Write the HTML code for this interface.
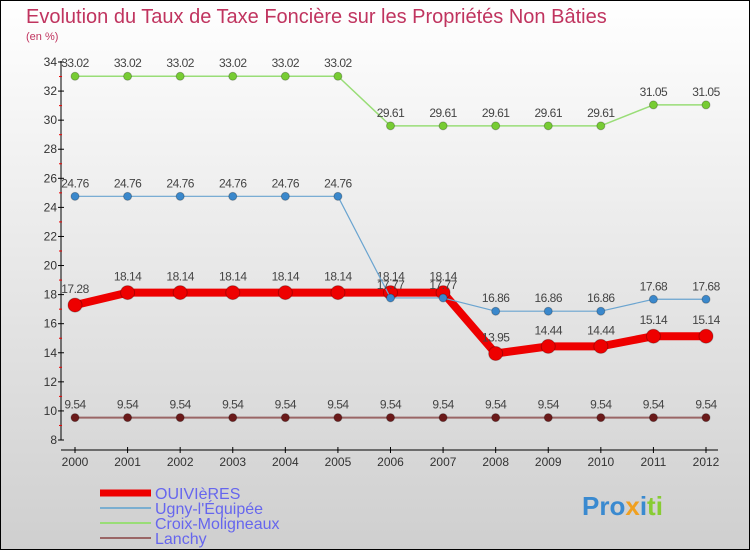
<!DOCTYPE html>
<html><head><meta charset="utf-8"><style>
body{margin:0}
svg text{font-family:"Liberation Sans","DejaVu Sans",sans-serif}
</style></head><body>
<svg width="750" height="550" xmlns="http://www.w3.org/2000/svg">
<defs><linearGradient id="bg" x1="0" y1="0" x2="0" y2="1"><stop offset="0" stop-color="#ffffff"/><stop offset="1" stop-color="#cfcfcf"/></linearGradient></defs>
<rect x="0.5" y="0.5" width="749" height="549" fill="url(#bg)" stroke="#000"/>
<text x="26" y="23" font-size="20" fill="#c0345f">Evolution du Taux de Taxe Foncière sur les Propriétés Non Bâties</text>
<text x="26" y="40" font-size="11" fill="#c0345f">(en %)</text>
<g id="axes"></g><g id="series"></g>
<g>
<line x1="100" y1="493" x2="151" y2="493" stroke="#ee0000" stroke-width="7"/>
<text x="155" y="499" font-size="16" fill="#6666ee">OUIVIèRES</text>
<line x1="100" y1="508" x2="151" y2="508" stroke="#7aaed0" stroke-width="2"/>
<text x="155" y="514" font-size="16" fill="#6666ee">Ugny-l'Équipée</text>
<line x1="100" y1="523" x2="151" y2="523" stroke="#99dd77" stroke-width="2"/>
<text x="155" y="529" font-size="16" fill="#6666ee">Croix-Moligneaux</text>
<line x1="100" y1="538" x2="151" y2="538" stroke="#9a6666" stroke-width="2"/>
<text x="155" y="544" font-size="16" fill="#6666ee">Lanchy</text>
</g>
<text x="582" y="515" font-size="26" font-weight="bold"><tspan fill="#3a8ad0">Pro</tspan><tspan fill="#f0a020">x</tspan><tspan fill="#3a8ad0">i</tspan><tspan fill="#88cc33">ti</tspan></text>
</svg>
<script>
const years=[2000,2001,2002,2003,2004,2005,2006,2007,2008,2009,2010,2011,2012];
const ouivieres=[17.28,18.14,18.14,18.14,18.14,18.14,18.14,18.14,13.95,14.44,14.44,15.14,15.14];
const ugny=[24.76,24.76,24.76,24.76,24.76,24.76,17.77,17.77,16.86,16.86,16.86,17.68,17.68];
const croix=[33.02,33.02,33.02,33.02,33.02,33.02,29.61,29.61,29.61,29.61,29.61,31.05,31.05];
const lanchy=[9.54,9.54,9.54,9.54,9.54,9.54,9.54,9.54,9.54,9.54,9.54,9.54,9.54];
const yTicks=[8,10,12,14,16,18,20,22,24,26,28,30,32,34];
const NS="http://www.w3.org/2000/svg";
const xs=i=>75+i*(631/12);
const ys=v=>440-(v-8)*(378/26);
function mk(tag,attrs,parent){const e=document.createElementNS(NS,tag);for(const k in attrs)e.setAttribute(k,attrs[k]);parent.appendChild(e);return e;}
const ax=document.getElementById('axes');
let yl=mk('line',{x1:61,y1:61,x2:61,y2:440,stroke:'#000'},ax);


let xl=mk('line',{x1:61,y1:450,x2:718,y2:450,stroke:'#000'},ax);


yTicks.forEach(t=>{const y=ys(t);
 mk('line',{x1:58,y1:y,x2:64,y2:y,stroke:'#000'},ax);
 if(t<34)mk('line',{x1:59,y1:ys(t+1),x2:62,y2:ys(t+1),stroke:'#e00'},ax);
 const tx=mk('text',{x:57,y:y+4,'font-size':12,fill:'#333','text-anchor':'end'},ax);tx.textContent=t;
 
 
});
years.forEach((yr,i)=>{const x=xs(i);
 mk('line',{x1:x,y1:447,x2:x,y2:453,stroke:'#000'},ax);
 const tx=mk('text',{x:x,y:466,'font-size':12,fill:'#333','text-anchor':'middle'},ax);tx.textContent=yr;
 
 
});
const sg=document.getElementById('series');
function series(name,vals,color,lw,r,dot){
 const g=mk('g',{},sg);
 
 
 mk('polyline',{points:vals.map((v,i)=>xs(i)+','+ys(v)).join(' '),fill:'none',stroke:color,'stroke-width':lw,'stroke-linejoin':'round'},g);
 vals.forEach((v,i)=>{
  const c=mk('circle',{cx:xs(i),cy:ys(v),r:r,fill:dot,stroke:'rgba(0,0,0,0.25)'},g);
  
  
  const t=mk('text',{x:xs(i),y:ys(v)-(r+5),'font-size':12,fill:'#444','text-anchor':'middle','letter-spacing':'-0.5'},g);
  t.textContent=String(v);
  
  
 });
}
series('ouivieres',ouivieres,'#ee0000',8,7,'#ee0000');
series('lanchy',lanchy,'#9a6666',2,4,'#6b1a1a');
series('croix',croix,'#99dd77',1.5,4,'#77cc33');
series('ugny',ugny,'#6aa4d0',1.2,4,'#3a88cc');
</script>
</body></html>
